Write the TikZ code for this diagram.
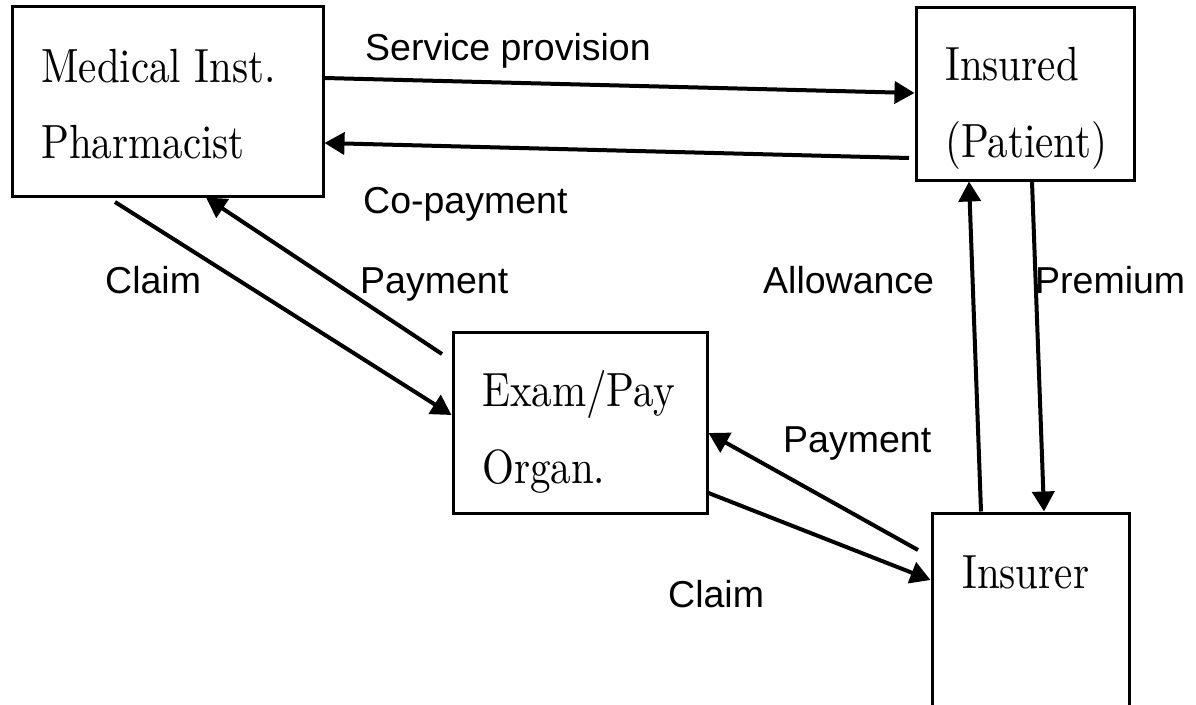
\documentclass[tikz,border=0pt]{standalone}
\usepackage{fontspec}
\usepackage{graphicx}
\setmainfont{Latin Modern Roman}
\setsansfont{Liberation Sans}
\usetikzlibrary{arrows.meta}

% party names: 10pt design, enlarged
\newcommand{\partyname}[1]{\scalebox{4.1}[4.8]{\fontsize{10}{12}\selectfont\rmfamily #1}}

\tikzset{
  party/.style={draw, line width=3pt, rectangle, inner sep=0pt},
  boxtext/.style={anchor=base west, inner sep=0pt},
  flowlabel/.style={anchor=base west, inner sep=0pt, font=\fontsize{37.5}{44}\selectfont\sffamily},
  flow/.style={line width=4pt, -{Triangle[length=20pt,width=22pt]}},
}

\begin{document}
\begin{tikzpicture}[x=1pt, y=-1pt]
  \useasboundingbox (0,0) rectangle (1196,704);
  \clip (0,0) rectangle (1196,704);

  % parties
  \node[party, minimum width=311pt, minimum height=190pt] (med) at (167.5,101) {};
  \node[party, minimum width=218pt, minimum height=173pt] (ins) at (1025,93.5) {};
  \node[party, minimum width=254pt, minimum height=181pt] (exam) at (580,422.5) {};
  \node[party, minimum width=197pt, minimum height=212pt] (insr) at (1030.5,619) {};

  % party names
  \node[boxtext] (medA) at (41,82) {\partyname{Medical Inst.}};
  \node[boxtext] (medB) at (41,158) {\partyname{Pharmacist}};
  \node[boxtext] (insA) at (945,80) {\partyname{Insured}};
  \node[boxtext] (insB) at (945,157) {\partyname{(Patient)}};
  \node[boxtext] (examA) at (482,406) {\partyname{Exam/Pay}};
  \node[boxtext] (examB) at (482,483) {\partyname{Organ.}};
  \node[boxtext] (insrA) at (962,588) {\partyname{Insurer}};

  % free ends of connectors
  \coordinate (copayTail) at (909,158);
  \coordinate (claimTail) at (115,202);
  \coordinate (payTail) at (442,354);
  \coordinate (payTailB) at (918,550);

  % flows
  \draw[flow] (med.east |- 0,78) -- (ins.west |- 0,93);
  \draw[flow] (copayTail) -- (med.east |- 0,143);
  \draw[flow] (claimTail) -- (exam.west |- 0,415);
  \draw[flow] (payTail) -- (med.south -| 206,0);
  \draw[flow] (payTailB) -- (exam.east |- 0,433);
  \draw[flow] (exam.east |- 0,493) -- (insr.west |- 0,580);
  \draw[flow] (insr.north -| 981,0) -- (ins.south -| 969,0);
  \draw[flow] (ins.south -| 1032,0) -- (insr.north -| 1044,0);

  % flow labels
  \node[flowlabel] (lService) at (365,60) {Service provision};
  \node[flowlabel] (lCopay) at (363,213) {Co-payment};
  \node[flowlabel] (lClaimA) at (105,293) {Claim};
  \node[flowlabel] (lPayA) at (360,293) {Payment};
  \node[flowlabel] (lAllow) at (763,293) {Allowance};
  \node[flowlabel] (lPrem) at (1035,293) {Premium};
  \node[flowlabel] (lPayB) at (783,452) {Payment};
  \node[flowlabel] (lClaimB) at (668,607) {Claim};
\end{tikzpicture}
\end{document}
